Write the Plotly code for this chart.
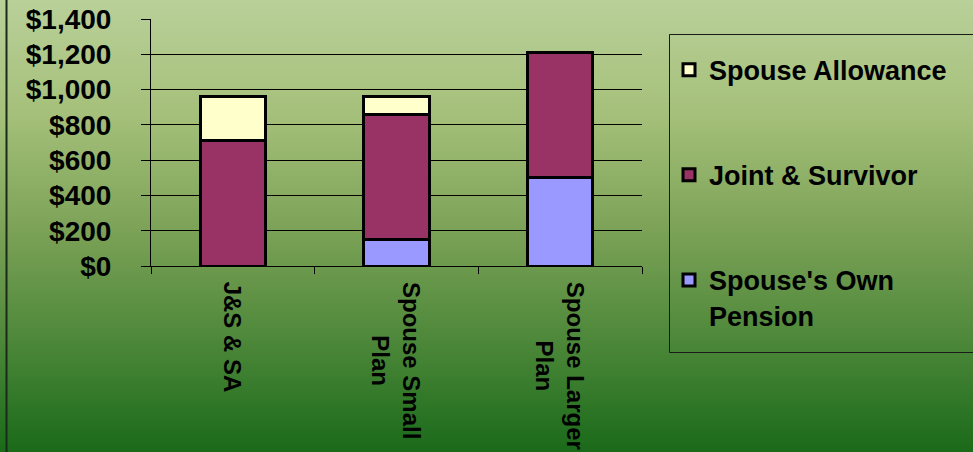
import base64
import struct
import zlib

import plotly.graph_objects as go

# ---- data ----
categories = ["J&S & SA", "Spouse Small<br>Plan", "Spouse Larger<br>Plan"]
own_pension = [0, 150, 500]
joint_survivor = [710, 710, 710]
spouse_allowance = [250, 100, 0]
y_ticks = [0, 200, 400, 600, 800, 1000, 1200, 1400]
y_tick_labels = ["$0", "$200", "$400", "$600", "$800", "$1,000", "$1,200", "$1,400"]

# ---- background gradient (style) ----
stops = [(0.0, (185, 208, 153)), (0.25, (165, 192, 122)), (0.5, (125, 163, 88)),
         (0.75, (78, 136, 58)), (1.0, (26, 106, 26))]
N = 452


def col_at(t):
    for (t0, c0), (t1, c1) in zip(stops[:-1], stops[1:]):
        if t0 <= t <= t1:
            f = (t - t0) / (t1 - t0)
            return tuple(int(round(a + (b - a) * f)) for a, b in zip(c0, c1))
    return stops[-1][1]


raw = b"".join(b"\x00" + bytes(col_at(i / (N - 1))) for i in range(N))


def chunk(tag, data):
    return struct.pack(">I", len(data)) + tag + data + struct.pack(">I", zlib.crc32(tag + data) & 0xFFFFFFFF)


png = (b"\x89PNG\r\n\x1a\n" + chunk(b"IHDR", struct.pack(">IIBBBBB", 1, N, 8, 2, 0, 0, 0))
       + chunk(b"IDAT", zlib.compress(raw)) + chunk(b"IEND", b""))
bg_uri = "data:image/png;base64," + base64.b64encode(png).decode()

FONT = "Liberation Sans, Arial, sans-serif"
W, H = 973, 452

fig = go.Figure()
series = [
    ("Spouse's Own<br>Pension", own_pension, "#9999FF", 3),
    ("Joint & Survivor", joint_survivor, "#993366", 2),
    ("Spouse Allowance", spouse_allowance, "#FFFFCC", 1),
]
for name, vals, color, rank in series:
    fig.add_trace(go.Bar(
        x=categories, y=vals, name=name, legendgroup=name, legendrank=rank,
        marker=dict(color=color, line=dict(color="black", width=3)),
        width=0.4, hoverinfo="skip",
    ))

for c in categories:
    fig.add_annotation(
        x=c, y=0, xref="x", yref="y", text=c, showarrow=False,
        textangle=90, xanchor="center", yanchor="top", yshift=-14, align="center",
        font=dict(family=FONT, size=24, color="black", weight="bold"),
    )

fig.update_layout(
    width=W, height=H,
    margin=dict(l=0, r=0, t=0, b=0, autoexpand=False),
    paper_bgcolor="rgba(0,0,0,0)", plot_bgcolor="rgba(0,0,0,0)",
    barmode="stack", bargap=0.6,
    font=dict(family=FONT, color="black"),
    images=[dict(source=bg_uri, xref="paper", yref="paper", x=0, y=1, sizex=1, sizey=1,
                 sizing="stretch", xanchor="left", yanchor="top", layer="below")],
    shapes=[
        dict(type="line", xref="paper", yref="paper", x0=6.5 / W, x1=6.5 / W, y0=0, y1=1,
             line=dict(color="#1a2a1a", width=2)),
        dict(type="rect", xref="paper", yref="paper", x0=669.5 / W, x1=1.02,
             y0=1 - 352.5 / H, y1=1 - 34.5 / H, line=dict(color="#1a1a1a", width=1),
             fillcolor="rgba(0,0,0,0)", layer="below"),
    ],
    legend=dict(
        x=669 / W, y=1 - 34 / H, xanchor="left", yanchor="top",
        traceorder="grouped", tracegroupgap=67, valign="top",
        bgcolor="rgba(0,0,0,0)", borderwidth=0,
        font=dict(family=FONT, size=27, color="black", weight="bold"),
        title=dict(text=" ", font=dict(size=9)),
    ),
    xaxis=dict(
        domain=[151 / W, 642 / W], type="category", showticklabels=False,
        ticks="outside", ticklen=7, tickcolor="black", tickson="boundaries",
        showline=True, linecolor="black", linewidth=1, showgrid=False,
    ),
    yaxis=dict(
        domain=[1 - 266 / H, 1 - 19 / H], range=[0, 1400],
        tickmode="array", tickvals=y_ticks, ticktext=y_tick_labels,
        ticks="outside", ticklen=9, tickcolor="black",
        showline=True, linecolor="black", linewidth=1,
        showgrid=True, gridcolor="black", gridwidth=1, zeroline=False,
        ticklabelstandoff=24,
        tickfont=dict(family=FONT, size=28, color="black", weight="bold"),
    ),
    showlegend=True,
)

fig.write_html(
    "out.html",
    config={"displayModeBar": False},
    post_script=("document.body.style.margin='0';"
                 "var d=document.getElementById('{plot_id}');"
                 "d.style.position='fixed';d.style.top='0';d.style.left='0';"),
)
